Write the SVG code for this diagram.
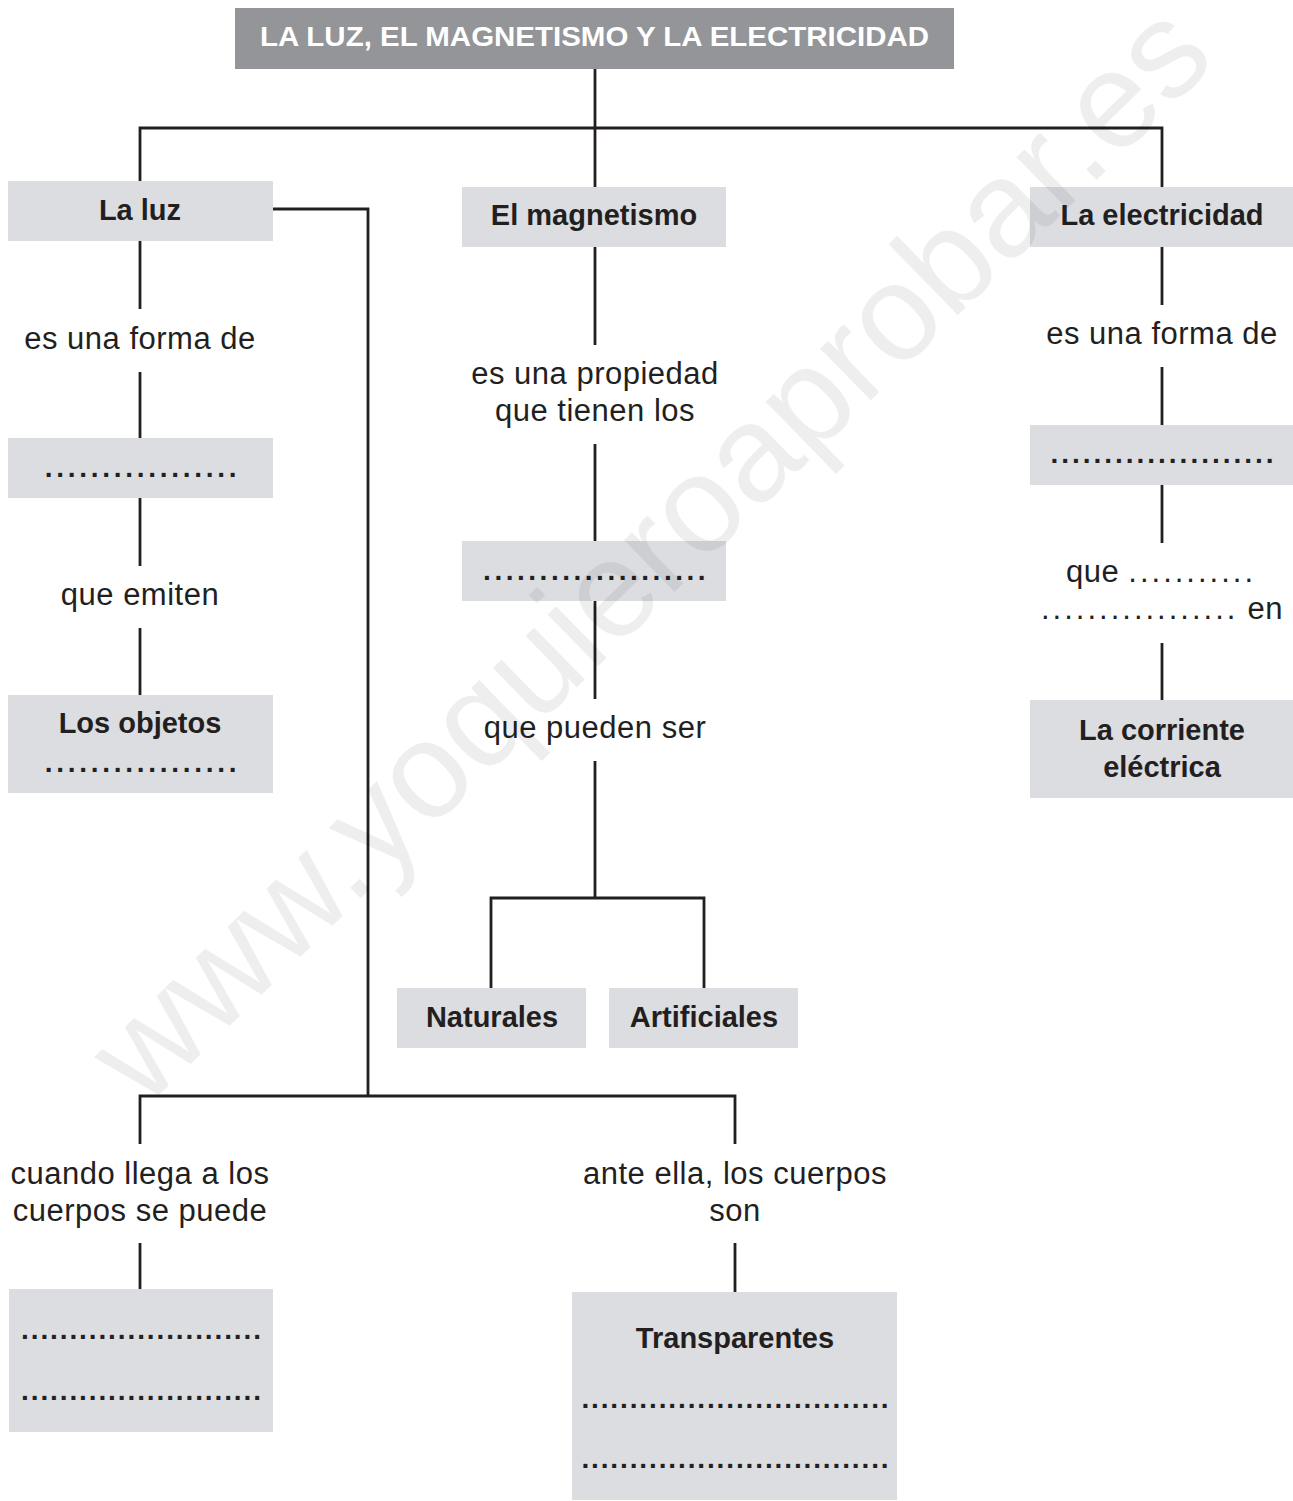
<svg xmlns="http://www.w3.org/2000/svg" width="1293" height="1501" viewBox="0 0 1293 1501">
<style>
.bg{fill:#ffffff}
.box{fill:#dcdde0}
.tbox{fill:#939598}
.c{fill:none;stroke:#231f20;stroke-width:2.8;stroke-linejoin:miter;stroke-linecap:butt}
.t{font-family:"Liberation Sans",Arial,sans-serif;font-size:31px;fill:#231f20;text-anchor:middle;letter-spacing:0.5px}
.b{font-family:"Liberation Sans",Arial,sans-serif;font-size:29px;font-weight:bold;fill:#231f20;text-anchor:middle}
.d{font-family:"Liberation Sans",Arial,sans-serif;font-size:28px;font-weight:bold;fill:#231f20}
.ld{letter-spacing:3px}
.title{font-family:"Liberation Sans Narrow","Liberation Sans",Arial,sans-serif;font-size:28px;font-weight:bold;fill:#ffffff}
.wm{font-family:"Liberation Sans",Arial,sans-serif;font-size:137px;fill:#000000;fill-opacity:0.065;text-anchor:middle}
</style>
<rect class="bg" x="0" y="0" width="1293" height="1501"/>

<g id="connectors">
<path class="c" d="M595,69 V128"/>
<path class="c" d="M140,181 V128 H1162 V187"/>
<path class="c" d="M595,128 V187"/>
<path class="c" d="M273,209 H368 V1096"/>
<path class="c" d="M140,1144 V1096 H735 V1144"/>
<path class="c" d="M140,241 V309"/>
<path class="c" d="M140,372 V438"/>
<path class="c" d="M140,498 V566"/>
<path class="c" d="M140,628 V695"/>
<path class="c" d="M595,247 V345"/>
<path class="c" d="M595,444 V541"/>
<path class="c" d="M595,601 V699"/>
<path class="c" d="M595,761 V898"/>
<path class="c" d="M491,988 V898 H704 V988"/>
<path class="c" d="M1162,247 V305"/>
<path class="c" d="M1162,367 V425"/>
<path class="c" d="M1162,485 V543"/>
<path class="c" d="M1162,643 V700"/>
<path class="c" d="M140,1243 V1289"/>
<path class="c" d="M735,1243 V1292"/>
</g>

<g id="title">
<rect class="tbox" x="235" y="8" width="719" height="61"/>
<text class="title" x="260" y="46" textLength="669" lengthAdjust="spacingAndGlyphs">LA LUZ, EL MAGNETISMO Y LA ELECTRICIDAD</text>
</g>

<g id="la-luz">
<rect class="box" x="8" y="181" width="265" height="60"/>
<text class="b" x="140" y="220">La luz</text>
</g>
<g id="luz-label1"><text class="t" x="140" y="349">es una forma de</text></g>
<g id="luz-blank">
<rect class="box" x="8" y="438" width="265" height="60"/>
<text class="d" x="44.8" y="477" letter-spacing="3.72">.................</text>
</g>
<g id="luz-label2"><text class="t" x="140" y="605">que emiten</text></g>
<g id="los-objetos">
<rect class="box" x="8" y="695" width="265" height="98"/>
<text class="b" x="140" y="733">Los objetos</text>
<text class="d" x="44.8" y="772" letter-spacing="3.72">.................</text>
</g>

<g id="el-magnetismo">
<rect class="box" x="462" y="187" width="264" height="60"/>
<text class="b" x="594" y="225">El magnetismo</text>
</g>
<g id="mag-label1">
<text class="t" x="595" y="384">es una propiedad</text>
<text class="t" x="595" y="421">que tienen los</text>
</g>
<g id="mag-blank">
<rect class="box" x="462" y="541" width="264" height="60"/>
<text class="d" x="483.1" y="580" letter-spacing="3.52">....................</text>
</g>
<g id="mag-label2"><text class="t" x="595" y="738">que pueden ser</text></g>
<g id="naturales">
<rect class="box" x="397" y="988" width="189" height="60"/>
<text class="b" x="492" y="1027">Naturales</text>
</g>
<g id="artificiales">
<rect class="box" x="609" y="988" width="189" height="60"/>
<text class="b" x="704" y="1027">Artificiales</text>
</g>

<g id="la-electricidad">
<rect class="box" x="1030" y="187" width="263" height="60"/>
<text class="b" x="1162" y="225">La electricidad</text>
</g>
<g id="elec-label1"><text class="t" x="1162" y="344">es una forma de</text></g>
<g id="elec-blank">
<rect class="box" x="1030" y="425" width="263" height="60"/>
<text class="d" x="1050.4" y="463" letter-spacing="2.99">.....................</text>
</g>
<g id="elec-label2">
<text class="t" x="1161" y="582">que <tspan class="ld">...........</tspan></text>
<text class="t" x="1162" y="619"><tspan class="ld">.................</tspan> en</text>
</g>
<g id="corriente">
<rect class="box" x="1030" y="700" width="263" height="98"/>
<text class="b" x="1162" y="740">La corriente</text>
<text class="b" x="1162" y="777">eléctrica</text>
</g>

<g id="cuando-label">
<text class="t" x="140" y="1184">cuando llega a los</text>
<text class="t" x="140" y="1221">cuerpos se puede</text>
</g>
<g id="cuando-blank">
<rect class="box" x="9" y="1289" width="264" height="143"/>
<text class="d" x="21.1" y="1339" letter-spacing="1.89">.........................</text>
<text class="d" x="21.1" y="1400" letter-spacing="1.89">.........................</text>
</g>
<g id="ante-label">
<text class="t" x="735" y="1184">ante ella, los cuerpos</text>
<text class="t" x="735" y="1221">son</text>
</g>
<g id="transparentes">
<rect class="box" x="572" y="1292" width="325" height="208"/>
<text class="b" x="735" y="1348">Transparentes</text>
<text class="d" x="581.4" y="1408" letter-spacing="1.88">................................</text>
<text class="d" x="581.4" y="1468" letter-spacing="1.88">................................</text>
</g>

<g id="watermark">
<text class="wm" transform="translate(657,560) rotate(-44.3)" x="0" y="35">www.yoquieroaprobar.es</text>
</g>
</svg>
